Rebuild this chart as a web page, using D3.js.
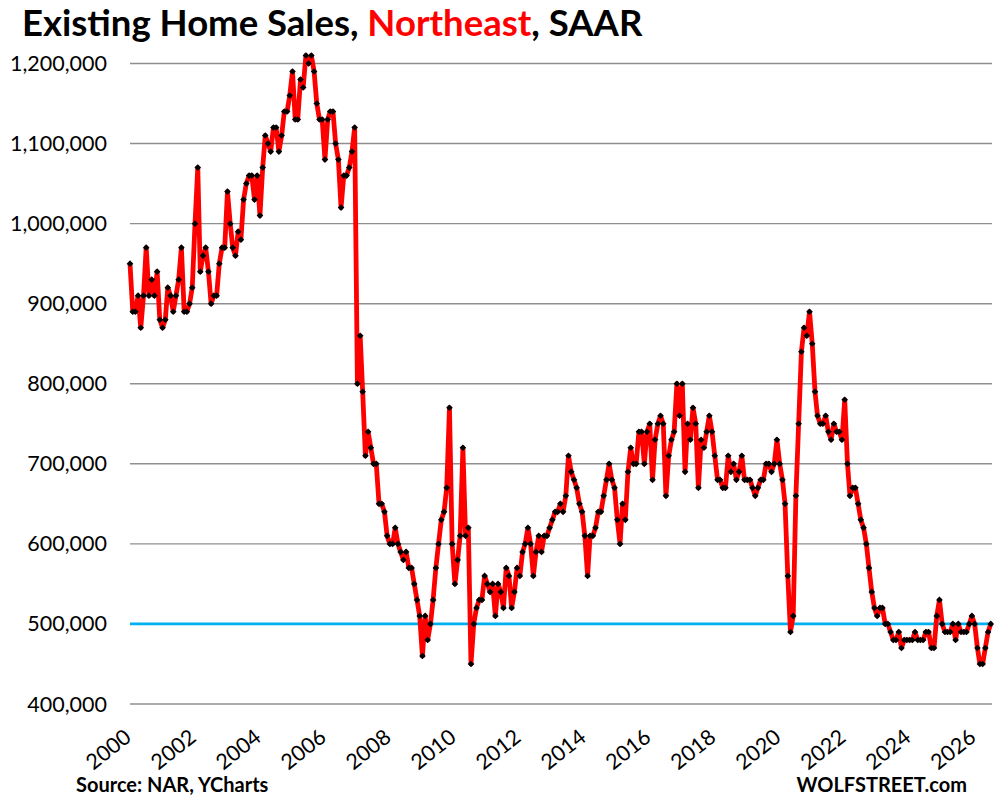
<!DOCTYPE html>
<html>
<head>
<meta charset="utf-8">
<script src="https://cdn.jsdelivr.net/npm/d3@7"></script>
<style>
  body { margin: 0; background: #fff; }
  svg { font-family: Lato, "Open Sans", sans-serif; }
</style>
</head>
<body>
<svg width="1008" height="800"></svg>
<script>
// monthly SAAR, first value = Jan 2000
var startYear = 2000;
var sales = [
  950000, 890000, 890000, 910000, 870000, 910000, 970000, 910000, 930000, 910000, 940000, 880000,
  870000, 880000, 920000, 910000, 890000, 910000, 930000, 970000, 890000, 890000, 900000, 920000,
  1000000, 1070000, 940000, 960000, 970000, 940000, 900000, 910000, 910000, 950000, 970000, 970000,
  1040000, 1000000, 970000, 960000, 990000, 980000, 1030000, 1050000, 1060000, 1060000, 1030000, 1060000,
  1010000, 1070000, 1110000, 1100000, 1090000, 1120000, 1120000, 1090000, 1110000, 1140000, 1140000, 1160000,
  1190000, 1130000, 1130000, 1180000, 1170000, 1210000, 1200000, 1210000, 1190000, 1150000, 1130000, 1130000,
  1080000, 1130000, 1140000, 1140000, 1100000, 1080000, 1020000, 1060000, 1060000, 1070000, 1090000, 1120000,
  800000, 860000, 790000, 710000, 740000, 720000, 700000, 700000, 650000, 650000, 640000, 610000,
  600000, 600000, 620000, 600000, 590000, 580000, 590000, 570000, 570000, 550000, 530000, 510000,
  460000, 510000, 480000, 500000, 530000, 570000, 600000, 630000, 640000, 670000, 770000, 600000,
  550000, 580000, 610000, 720000, 610000, 620000, 450000, 500000, 520000, 530000, 530000, 560000,
  550000, 540000, 550000, 510000, 550000, 540000, 520000, 570000, 560000, 520000, 540000, 570000,
  560000, 590000, 600000, 620000, 600000, 560000, 590000, 610000, 590000, 610000, 610000, 620000,
  630000, 640000, 640000, 650000, 640000, 660000, 710000, 690000, 680000, 670000, 650000, 640000,
  610000, 560000, 610000, 610000, 620000, 640000, 640000, 660000, 680000, 700000, 680000, 670000,
  630000, 600000, 650000, 630000, 690000, 720000, 700000, 700000, 740000, 740000, 700000, 740000,
  750000, 680000, 730000, 750000, 760000, 750000, 660000, 710000, 730000, 740000, 800000, 760000,
  800000, 690000, 750000, 730000, 770000, 750000, 670000, 730000, 720000, 740000, 760000, 740000,
  710000, 680000, 680000, 670000, 670000, 710000, 690000, 700000, 680000, 690000, 710000, 680000,
  680000, 680000, 670000, 660000, 670000, 680000, 680000, 700000, 700000, 690000, 700000, 730000,
  700000, 680000, 650000, 560000, 490000, 510000, 660000, 750000, 840000, 870000, 860000, 890000,
  850000, 790000, 760000, 750000, 750000, 760000, 740000, 730000, 750000, 740000, 740000, 730000,
  780000, 700000, 660000, 670000, 670000, 650000, 630000, 620000, 600000, 570000, 540000, 520000,
  510000, 520000, 520000, 500000, 500000, 490000, 480000, 480000, 490000, 470000, 480000, 480000,
  480000, 480000, 490000, 480000, 480000, 480000, 490000, 490000, 470000, 470000, 510000, 530000,
  500000, 490000, 490000, 490000, 500000, 480000, 500000, 490000, 490000, 490000, 500000, 510000,
  500000, 470000, 450000, 450000, 470000, 490000, 500000
];
var yTicks = [400000, 500000, 600000, 700000, 800000, 900000, 1000000, 1100000, 1200000];
var xTickYears = [2000, 2002, 2004, 2006, 2008, 2010, 2012, 2014, 2016, 2018, 2020, 2022, 2024, 2026];
var refLevel = 500000;

main();

function main() {
  var svg = d3.select("svg");

  var data = sales.map(function(v, i) {
    return { date: new Date(startYear, i, 1), value: v };
  });

  var x = d3.scaleTime()
    .domain([new Date(2000, 0, 1), new Date(2026, 6, 15)])
    .range([130, 992]);

  var y = d3.scaleLinear()
    .domain([400000, 1200000])
    .range([704, 63.5]);

  var fmt = d3.format(",");

  // title
  var title = svg.append("text")
    .attr("x", 22)
    .attr("y", 36)
    .style("font-size", "36.5px")
    .style("font-weight", "bold")
    .attr("fill", "#000");
  title.append("tspan").text("Existing Home Sales, ");
  title.append("tspan").attr("fill", "#ff0000").text("Northeast");
  title.append("tspan").text(", SAAR");

  // horizontal grid
  svg.append("g")
    .selectAll("line")
    .data(yTicks)
    .enter()
    .append("line")
    .attr("x1", x.range()[0])
    .attr("x2", x.range()[1])
    .attr("y1", function(d) { return y(d); })
    .attr("y2", function(d) { return y(d); })
    .attr("stroke", "#8f8f8f")
    .attr("stroke-width", 1.4);

  // y labels
  svg.append("g")
    .selectAll("text")
    .data(yTicks)
    .enter()
    .append("text")
    .attr("x", 107)
    .attr("y", function(d) { return y(d); })
    .attr("dy", "0.35em")
    .attr("text-anchor", "end")
    .style("font-size", "21.5px")
    .text(function(d) { return fmt(d); });

  // x labels, rotated
  svg.append("g")
    .selectAll("text")
    .data(xTickYears)
    .enter()
    .append("text")
    .attr("transform", function(d) {
      return "translate(" + (x(new Date(d, 0, 1)) - 2) + ",734) rotate(-38)";
    })
    .attr("dy", "0.35em")
    .attr("text-anchor", "end")
    .style("font-size", "21.5px")
    .text(function(d) { return d; });

  // 500k reference line
  svg.append("line")
    .attr("x1", x.range()[0])
    .attr("x2", x.range()[1] + 1)
    .attr("y1", y(refLevel))
    .attr("y2", y(refLevel))
    .attr("stroke", "#00b0f0")
    .attr("stroke-width", 2.8);

  var line = d3.line()
    .x(function(d) { return x(d.date); })
    .y(function(d) { return y(d.value); });

  svg.append("path")
    .datum(data)
    .attr("fill", "none")
    .attr("stroke", "#ff0000")
    .attr("stroke-width", 4.8)
    .attr("stroke-linejoin", "round")
    .attr("d", line);

  // square markers turned 45deg = diamonds
  svg.append("g")
    .selectAll("path")
    .data(data)
    .enter()
    .append("path")
    .attr("transform", function(d) {
      return "translate(" + x(d.date) + "," + y(d.value) + ") rotate(45)";
    })
    .attr("d", d3.symbol().type(d3.symbolSquare).size(22))
    .attr("fill", "#000");

  // footer
  svg.append("text")
    .attr("x", 76)
    .attr("y", 792)
    .style("font-size", "20px")
    .style("font-weight", "bold")
    .text("Source: NAR, YCharts");

  svg.append("text")
    .attr("x", 967)
    .attr("y", 792)
    .attr("text-anchor", "end")
    .style("font-size", "20px")
    .style("font-weight", "bold")
    .text("WOLFSTREET.com");
}
</script>
</body>
</html>
